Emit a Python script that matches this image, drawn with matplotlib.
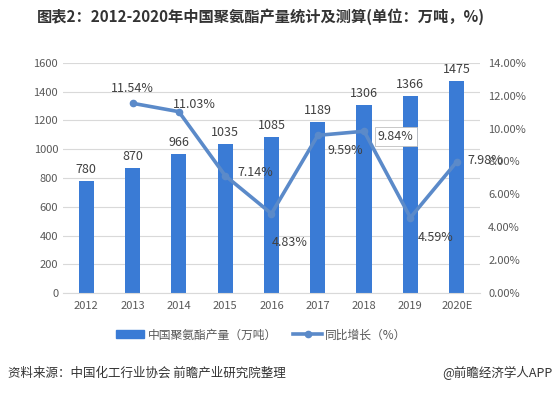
import matplotlib
matplotlib.use("Agg")
import matplotlib.pyplot as plt
import numpy as np
from matplotlib.patches import Patch
from matplotlib.lines import Line2D

plt.rcParams['font.family'] = ['Noto Sans CJK SC', 'DejaVu Sans']

categories = ["2012", "2013", "2014", "2015", "2016", "2017", "2018", "2019", "2020E"]
production = [780, 870, 966, 1035, 1085, 1189, 1306, 1366, 1475]
growth = [None, 11.54, 11.03, 7.14, 4.83, 9.59, 9.84, 4.59, 7.98]
left_ticks = [0, 200, 400, 600, 800, 1000, 1200, 1400, 1600]
right_ticks = [0, 2, 4, 6, 8, 10, 12, 14]

bar_color = "#3A7BD5"
line_color = "#5B8AC9"
text_color = "#404040"
tick_color = "#595959"

fig = plt.figure(figsize=(5.58, 3.95), dpi=100)
ax = fig.add_axes([0.113, 0.258, 0.747, 0.583])
ax2 = ax.twinx()

x = np.arange(len(categories))
ax.bar(x, production, width=0.33, color=bar_color, zorder=2)
ax.set_ylim(0, 1600)
ax.set_yticks(left_ticks)
ax.set_xlim(-0.5, len(categories) - 0.5)
ax.set_xticks(x)
ax.set_xticklabels(categories)
ax.grid(axis='y', color="#D9D9D9", linewidth=0.8, zorder=0)
ax.set_axisbelow(True)
for s in ax.spines.values():
    s.set_visible(False)
ax.spines['bottom'].set_visible(True)
ax.spines['bottom'].set_color("#D9D9D9")
ax.tick_params(axis='both', length=0, labelsize=8, colors=tick_color)
ax.tick_params(axis='x', pad=6)

for xi, v in zip(x, production):
    ax.text(xi, v + 35, str(v), ha='center', va='bottom', fontsize=9, color=text_color)

gx = [xi for xi, g in zip(x, growth) if g is not None]
gy = [g for g in growth if g is not None]
ax2.plot(gx, gy, color=line_color, linewidth=2.6, marker='o', markersize=4.5, zorder=3)
ax2.set_ylim(0, 14)
ax2.set_yticks(right_ticks)
ax2.set_yticklabels([f"{t:.2f}%" for t in right_ticks])
for s in ax2.spines.values():
    s.set_visible(False)
ax2.tick_params(axis='y', length=0, labelsize=8, colors=tick_color, pad=6)

offsets = {
    1: (0, 6, 'center', 'bottom'),
    2: (11, 5, 'center', 'center'),
    3: (9, 2, 'left', 'center'),
    4: (13, -21, 'center', 'center'),
    5: (20, -11, 'center', 'center'),
    6: (10, -4, 'left', 'center'),
    7: (18, -14, 'center', 'center'),
    8: (8, 1, 'left', 'center'),
}
for xi, g in zip(x, growth):
    if g is None:
        continue
    dx, dy, ha, va = offsets[xi]
    kw = {}
    if xi == 6:
        kw['bbox'] = dict(boxstyle='square,pad=0.25', fc='white', ec='#BFBFBF', lw=0.6)
    ax2.annotate(f"{g:.2f}%", (xi, g), xytext=(dx, dy), textcoords='offset points',
                 ha=ha, va=va, fontsize=9, color=text_color, zorder=5, **kw)

fig.text(0.467, 0.957, "图表2：2012-2020年中国聚氨酯产量统计及测算(单位：万吨，%)",
         ha='center', va='center', fontsize=11, fontweight='bold', color="#333333")

handles = [Patch(color=bar_color), Line2D([0], [0], color=line_color, lw=2.6, marker='o', markersize=4.5)]
fig.legend(handles, ["中国聚氨酯产量（万吨）", "同比增长（%）"], loc='center',
           bbox_to_anchor=(0.468, 0.152), ncol=2, frameon=False, fontsize=8.5,
           labelcolor=tick_color, handlelength=2.4, columnspacing=1.4, handletextpad=0.3)

fig.text(0.014, 0.055, "资料来源：中国化工行业协会 前瞻产业研究院整理", ha='left', va='center',
         fontsize=9, color="#333333")
fig.text(0.99, 0.055, "@前瞻经济学人APP", ha='right', va='center', fontsize=9, color="#333333")

fig.savefig("out.png", dpi=100)
